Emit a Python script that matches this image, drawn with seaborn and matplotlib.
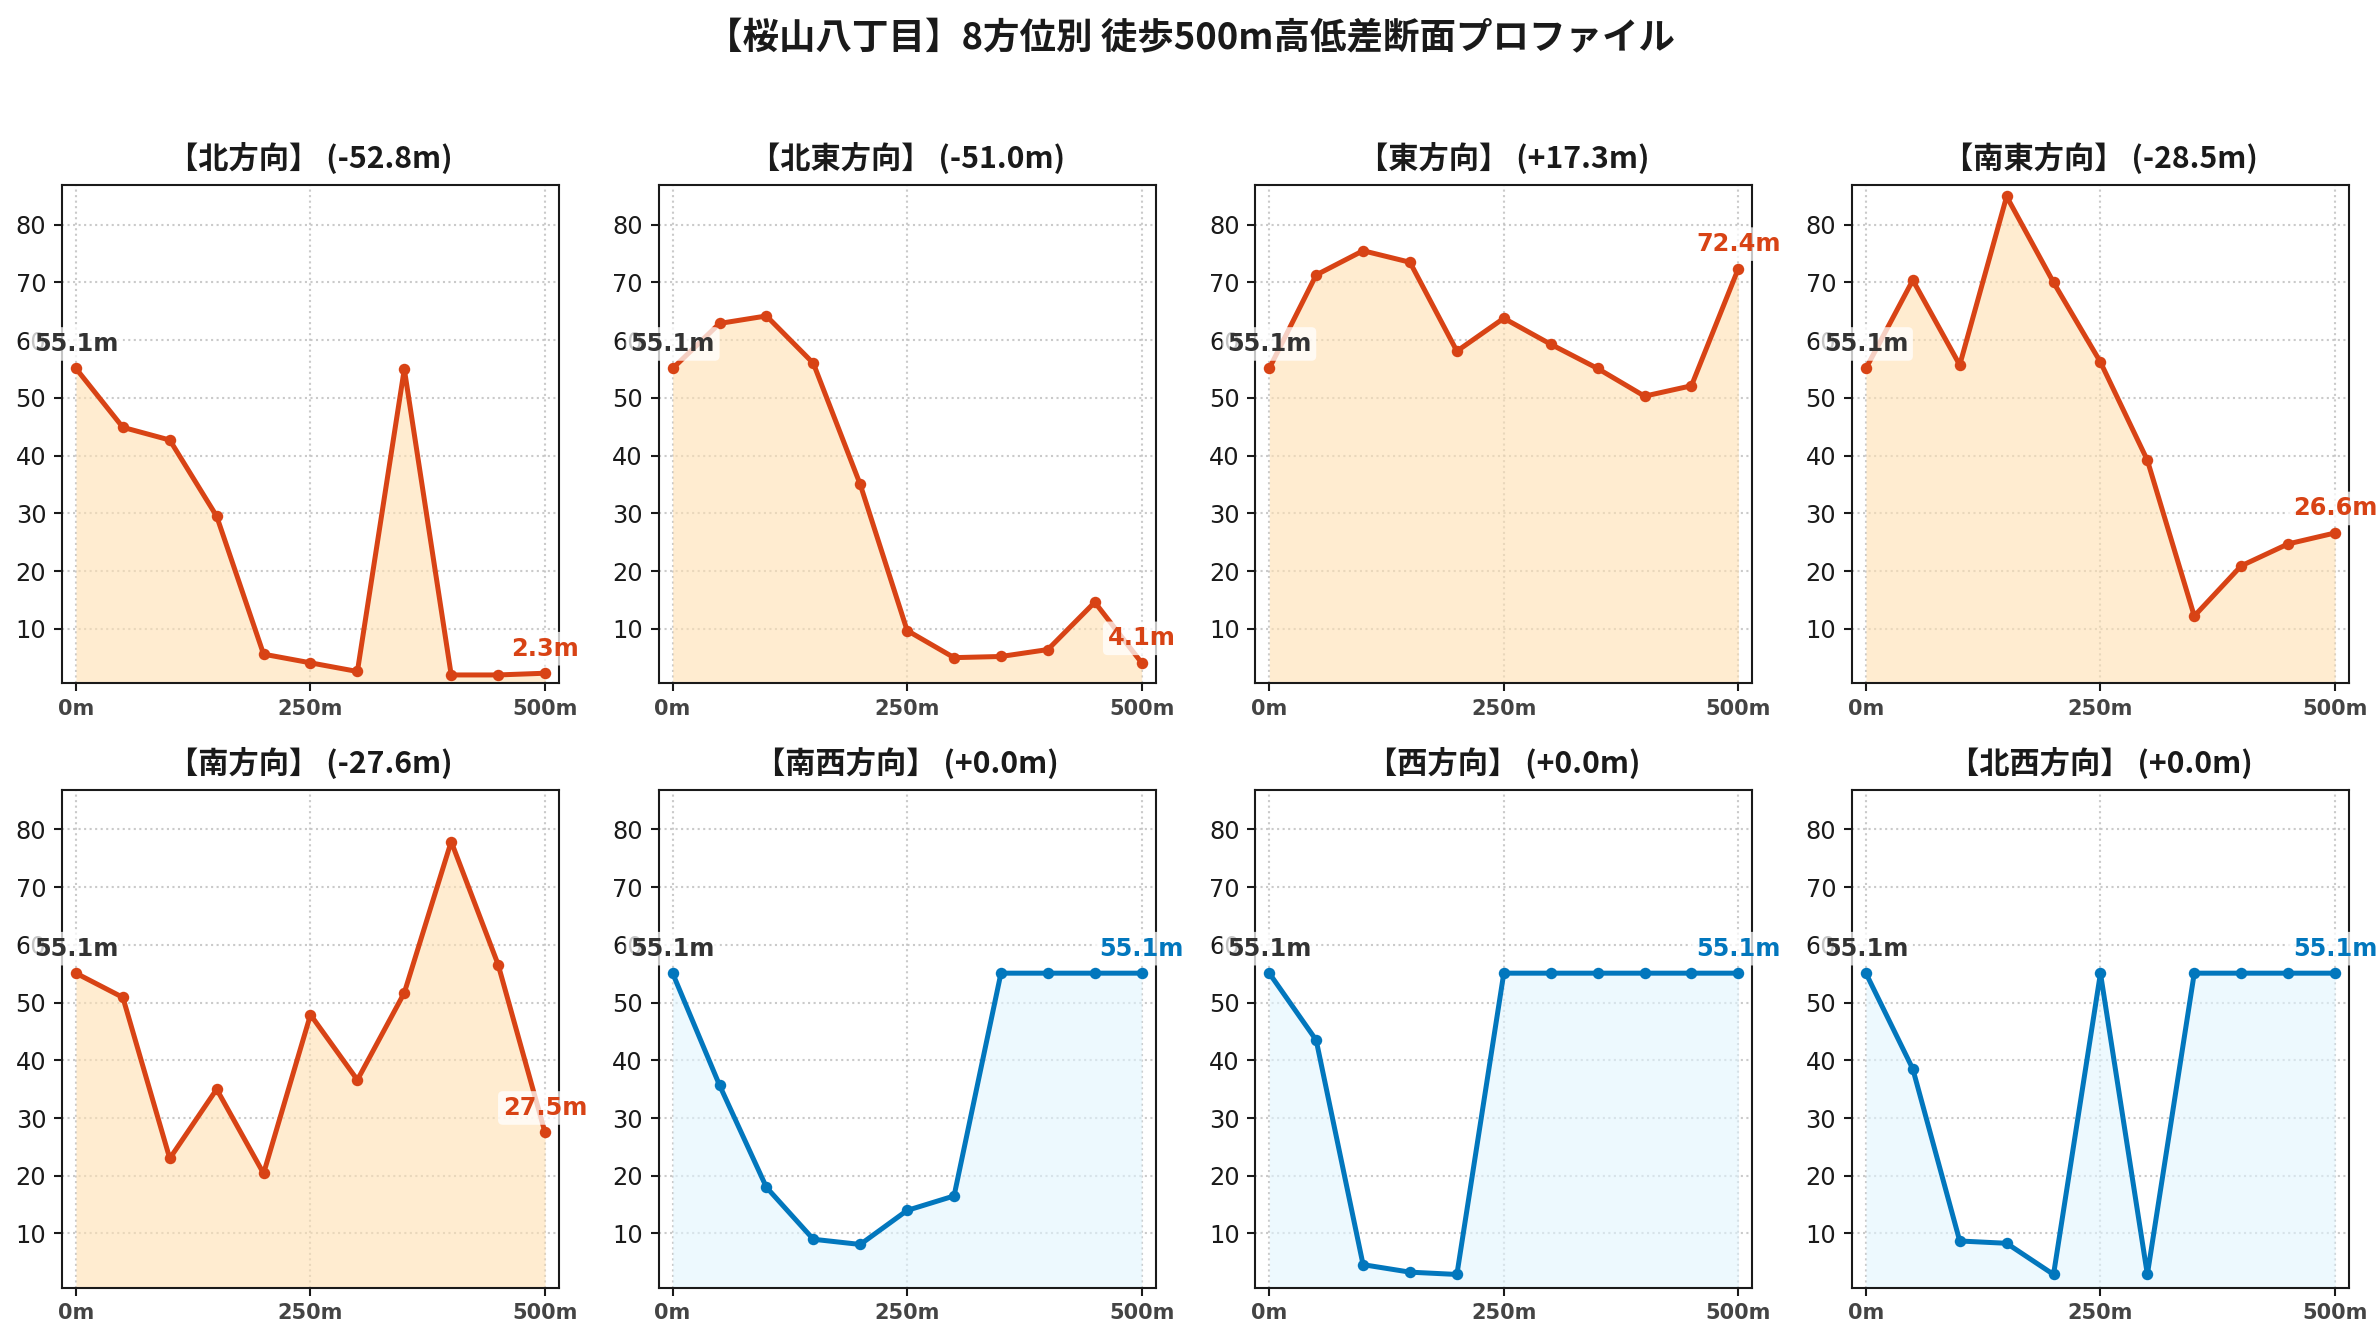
#!/usr/bin/env python3

import numpy as np
import seaborn as sns
import matplotlib.pyplot as plt

# distance from the start point (m)
distance = [0, 50, 100, 150, 200, 250, 300, 350, 400, 450, 500]

directions = ["北方向", "北東方向", "東方向", "南東方向",
              "南方向", "南西方向", "西方向", "北西方向"]

# elevation (m) along each direction
elev_n = [55.1, 44.9, 42.7, 29.5, 5.6, 4.1, 2.6, 55.0, 2.0, 2.0, 2.3]
elev_ne = [55.1, 62.9, 64.2, 56.0, 35.0, 9.7, 5.0, 5.2, 6.4, 14.6, 4.1]
elev_e = [55.1, 71.3, 75.5, 73.5, 58.1, 63.8, 59.3, 55.1, 50.3, 52.1, 72.4]
elev_se = [55.1, 70.4, 55.7, 84.9, 70.0, 56.2, 39.2, 12.2, 20.9, 24.7, 26.6]
elev_s = [55.1, 50.9, 23.0, 35.0, 20.4, 47.9, 36.6, 51.7, 77.9, 56.6, 27.5]
elev_sw = [55.1, 35.7, 18.0, 9.0, 8.1, 14.0, 16.5, 55.1, 55.1, 55.1, 55.1]
elev_w = [55.1, 43.5, 4.6, 3.3, 2.9, 55.1, 55.1, 55.1, 55.1, 55.1, 55.1]
elev_nw = [55.1, 38.5, 8.7, 8.3, 2.9, 55.1, 2.9, 55.1, 55.1, 55.1, 55.1]

profiles = [elev_n, elev_ne, elev_e, elev_se, elev_s, elev_sw, elev_w, elev_nw]

x_ticks = [0, 250, 500]
x_tick_labels = ["0m", "250m", "500m"]

suptitle = "【桜山八丁目】8方位別 徒歩500m高低差断面プロファイル"

CJK = ["Noto Sans CJK JP", "DejaVu Sans"]
LINE_DOWN = "#D84315"
FILL_DOWN = "#FFE0B2"
LINE_FLAT = "#0277BD"
FILL_FLAT = "#E1F5FE"

sns.set_theme(style="ticks", rc={
    "axes.edgecolor": "#1a1a1a",
    "axes.linewidth": 1.0,
    "xtick.color": "#1a1a1a",
    "ytick.color": "#1a1a1a",
    "axes.labelcolor": "#1a1a1a",
})
plt.rcParams["font.family"] = ["DejaVu Sans", "Noto Sans CJK JP"]

fig, axes = plt.subplots(2, 4, figsize=(2380 / 150, 1340 / 150), dpi=150)
fig.subplots_adjust(left=0.026, right=0.987, top=0.862, bottom=0.039,
                    wspace=0.2, hspace=0.214)

for ax, name, elev in zip(axes.flat, directions, profiles):
    elev = np.asarray(elev)
    diff = round(elev[-1] - elev[0], 1)
    flat = abs(diff) < 0.05
    line_c = LINE_FLAT if flat else LINE_DOWN
    fill_c = FILL_FLAT if flat else FILL_DOWN

    ax.fill_between(distance, elev, 0, color=fill_c, alpha=0.6,
                    linewidth=0, zorder=1)
    sns.lineplot(x=distance, y=elev, ax=ax, color=line_c, linewidth=2.4,
                 marker="o", markersize=5.5, markeredgewidth=0, zorder=3)

    ax.set_ylim(0.6, 86.9)
    ax.set_xlim(-15, 515)
    ax.set_yticks(np.arange(10, 90, 10))
    ax.set_xticks(x_ticks)
    ax.set_xticklabels(x_tick_labels, fontweight="bold", color="#444444")
    ax.tick_params(axis="x", labelsize=10, length=4, width=1.0)
    ax.tick_params(axis="y", labelsize=11.5, length=4, width=1.0)
    ax.grid(True, linestyle=":", linewidth=1.0, color="#bdbdbd", alpha=0.8)
    ax.set_axisbelow(True)
    ax.set_xlabel("")
    ax.set_ylabel("")
    for sp in ax.spines.values():
        sp.set_visible(True)

    box = dict(boxstyle="round,pad=0.2", fc="white", ec="none", alpha=0.75)
    ax.annotate(f"{elev[0]:.1f}m", (distance[0], elev[0]),
                xytext=(0, 6), textcoords="offset points",
                ha="center", va="bottom", fontsize=11.5, fontweight="bold",
                color="#333333", bbox=box, zorder=5, annotation_clip=False)
    ax.annotate(f"{elev[-1]:.1f}m", (distance[-1], elev[-1]),
                xytext=(0, 6), textcoords="offset points",
                ha="center", va="bottom", fontsize=11.5, fontweight="bold",
                color=line_c, bbox=box, zorder=5, annotation_clip=False)

    ax.set_title(f"【{name}】 ({diff:+.1f}m)", fontsize=14.5,
                 fontweight="bold", family=CJK, pad=8, color="#1a1a1a")

fig.suptitle(suptitle, fontsize=17.5, fontweight="bold", family=CJK,
             y=0.985, color="#1a1a1a")

fig.savefig("out.png", dpi=150)
